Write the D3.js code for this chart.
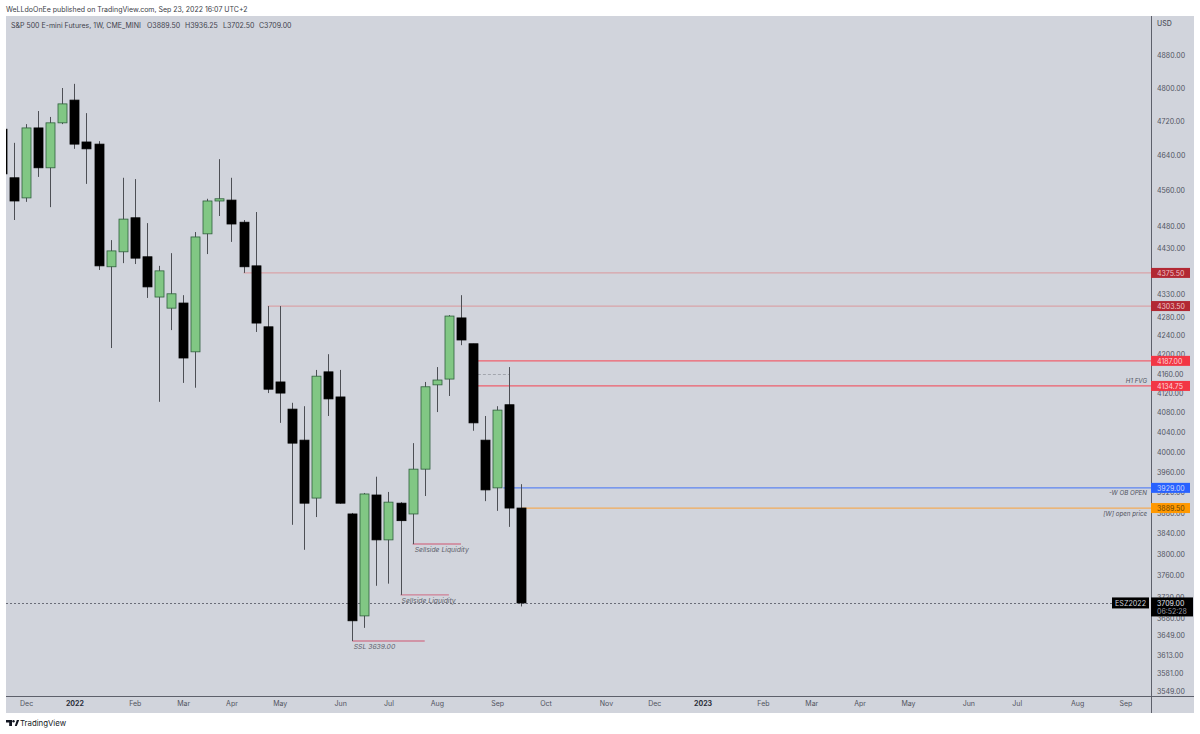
<!DOCTYPE html>
<html>
<head>
<meta charset="utf-8">
<title>ES weekly</title>
<script src="https://cdn.jsdelivr.net/npm/d3@7"></script>
<style>
  html, body { margin: 0; background: #fff; overflow: hidden; }
  svg { display: block; }
  text { font-family: Inter, "Liberation Sans", sans-serif; }
</style>
</head>
<body>
<div id="chart"></div>
<script>
// weekly bars, first one is cut off by the left edge
var opens  = [4702, 4589, 4543, 4705, 4612, 4717, 4771, 4672, 4667, 4389, 4422, 4498, 4411, 4323, 4299, 4310, 4206, 4462, 4536, 4538, 4488, 4391, 4259, 4143, 4087, 4024, 3909, 4164, 4112, 3878, 3685, 3915, 3828, 3899, 3878, 3966, 4137, 4149, 4278, 4223, 4024, 3929, 4096, 3889.5]
var highs  = [4702, 4670, 4714, 4745, 4731, 4800, 4810, 4740, 4674, 4448, 4589, 4586, 4486, 4391, 4419, 4327, 4466, 4541, 4632, 4589, 4493, 4511, 4303.5, 4303.5, 4100, 4093, 4168, 4201, 4168, 3880, 3919, 3951, 3921, 3901, 4018, 4143, 4174, 4284, 4327, 4223, 4073, 4093, 4174, 3936.25]
var lows   = [4598, 4493, 4534, 4591, 4522, 4714, 4656, 4575, 4382, 4214, 4397, 4395, 4321, 4102, 4252, 4141, 4131, 4417, 4502, 4444, 4375.5, 4248, 4120, 4059, 3857, 3809, 3872, 4073, 3898, 3639, 3663, 3741, 3745, 3724, 3820, 3913, 4081, 4114, 4220, 4043, 3903, 3884, 3853, 3702.5]
var closes = [4598, 4536, 4705, 4612, 4717, 4762, 4667, 4656, 4391, 4424, 4495, 4408, 4345, 4380, 4330, 4193, 4455, 4536, 4541, 4484, 4389, 4267, 4128, 4120, 4018, 3899, 4155, 4108, 3899, 3676, 3917, 3828, 3901, 3865, 3966, 4133, 4147, 4282, 4231, 4059, 3925, 4085, 3889.5, 3709]

var priceTicks = [4880, 4800, 4720, 4640, 4560, 4480, 4430, 4330, 4280, 4240, 4200, 4160, 4120, 4080, 4040, 4000, 3960, 3920, 3880, 3840, 3800, 3760, 3720, 3680, 3649, 3613, 3581, 3549]
var timeTicks  = [1, 5, 10, 14, 18, 22, 27, 31, 35, 40, 44, 49, 53, 57, 62, 66, 70, 74, 79, 83, 88, 92]
var timeLabels = ['Dec', '2022', 'Feb', 'Mar', 'Apr', 'May', 'Jun', 'Jul', 'Aug', 'Sep', 'Oct', 'Nov', 'Dec', '2023', 'Feb', 'Mar', 'Apr', 'May', 'Jun', 'Jul', 'Aug', 'Sep']

// drawn levels: price, first bar, colour
var levelPrices = [4375.5, 4303.5, 4187, 4134.75, 3929, 3889.5]
var levelStarts = [19, 21, 38.4, 38.4, 40.5, 42]
var levelColors = ['#d9a3a8', '#d9a3a8', '#f0606c', '#ee5f6c', '#5c85f2', '#f2ab5a']
var tagColors   = ['#b22833', '#b22833', '#f23645', '#f23645', '#2962ff', '#ff9800']
var tagText     = ['#f0c4c8', '#f0c4c8', '#ffd4d8', '#ffd4d8', '#c9d6ff', '#6b4400']

var liquidityPrices = [3820, 3724, 3639]
var liquidityStarts = [33, 32, 28]
var liquidityEnds   = [37, 36, 34]
var liquidityLabels = ['Sellside Liquidity', 'Sellside Liquidity', 'SSL 3639.00']

var width = 1200, height = 734
var plot = { left: 6, right: 1151, top: 16, bottom: 696, outer: 1194, foot: 713 }

var svg = d3.select('#chart').append('svg').attr('width', width).attr('height', height)

var x = d3.scaleLinear().domain([-1, 92]).range([1.9, 1125.4])
var y = d3.scaleLog().domain([4880, 3549]).range([55, 691])

svg.append('rect')
  .attr('x', plot.left).attr('y', plot.top)
  .attr('width', plot.outer - plot.left).attr('height', plot.foot - plot.top)
  .attr('fill', '#d1d4dc')

svg.append('clipPath').attr('id', 'plot-clip').append('rect')
  .attr('x', plot.left).attr('y', plot.top)
  .attr('width', plot.right - plot.left).attr('height', plot.bottom - plot.top)

var main = svg.append('g').attr('clip-path', 'url(#plot-clip)')

/*
* Levels, behind the candles
*/
main.selectAll('.level').data(levelPrices).enter().append('line')
  .attr('x1', function(d, i){ return x(levelStarts[i]) })
  .attr('x2', plot.right)
  .attr('y1', function(d){ return y(d) })
  .attr('y2', function(d){ return y(d) })
  .attr('stroke', function(d, i){ return levelColors[i] })
  .attr('stroke-width', 1.2)

// dashed mid line of the FVG
main.append('line')
  .attr('x1', x(38.4)).attr('x2', x(41))
  .attr('y1', Math.round(y(4160)) + 0.5).attr('y2', Math.round(y(4160)) + 0.5)
  .attr('stroke', '#a3a6ae').attr('stroke-dasharray', '3,2')

main.selectAll('.liq').data(liquidityPrices).enter().append('line')
  .attr('x1', function(d, i){ return x(liquidityStarts[i]) })
  .attr('x2', function(d, i){ return x(liquidityEnds[i]) })
  .attr('y1', function(d){ return y(d) })
  .attr('y2', function(d){ return y(d) })
  .attr('stroke', '#cf7f95')
  .attr('stroke-width', 1.4)

main.append('line')
  .attr('x1', plot.left).attr('x2', 1112)
  .attr('y1', Math.round(y(3709)) + 0.5).attr('y2', Math.round(y(3709)) + 0.5)
  .attr('stroke', '#6a6d78').attr('stroke-dasharray', '2,2')

/*
* Candles
*/
var bars = main.selectAll('.bar').data(opens).enter().append('g').attr('class', 'bar')

bars.append('line')
  .attr('x1', function(d, i){ return Math.round(x(i - 1)) + 0.5 })
  .attr('x2', function(d, i){ return Math.round(x(i - 1)) + 0.5 })
  .attr('y1', function(d, i){ return y(highs[i]) })
  .attr('y2', function(d, i){ return y(lows[i]) })
  .attr('stroke', '#4d4f55').attr('stroke-width', 1)

bars.append('rect')
  .attr('x', function(d, i){ return Math.round(x(i - 1)) - 4 })
  .attr('width', 9)
  .attr('y', function(d, i){ return y(Math.max(d, closes[i])) })
  .attr('height', function(d, i){ return Math.max(1.5, Math.abs(y(d) - y(closes[i]))) })
  .attr('fill', function(d, i){ return closes[i] >= d ? '#81c784' : '#000' })
  .attr('stroke', function(d, i){ return closes[i] >= d ? '#2f5f3c' : '#000' })
  .attr('stroke-width', 0.8)

/*
* Notes on the chart
*/
main.selectAll('.liq-label').data(liquidityPrices).enter().append('text')
  .attr('x', function(d, i){ return x(liquidityStarts[i]) + (i == 2 ? 1.5 : i == 0 ? 2 : 1) })
  .attr('y', function(d, i){ return y(d) + 8 })
  .attr('font-size', 6.8).attr('font-style', 'italic').attr('fill', '#5d606b')
  .text(function(d, i){ return liquidityLabels[i] })

var notes = [['H1 FVG', 4134.75, -3], ['-W OB OPEN', 3929, 7.5], ['[W] open price', 3889.5, 7.5]]
main.selectAll('.note').data(notes).enter().append('text')
  .attr('x', 1147)
  .attr('y', function(d){ return y(d[1]) + d[2] })
  .attr('text-anchor', 'end')
  .attr('font-size', 6.2).attr('font-style', 'italic').attr('fill', '#50535e')
  .text(function(d){ return d[0] })

/*
* Axes
*/
var yAxis = d3.axisRight(y).tickValues(priceTicks).tickSize(0).tickPadding(6)
  .tickFormat(d3.format('.2f'))
var yG = svg.append('g').attr('transform', 'translate(' + plot.right + ',0)').call(yAxis)
yG.select('.domain').remove()
yG.selectAll('text').attr('font-family', 'Inter, sans-serif').attr('font-size', 7).attr('fill', '#50535e')

var xAxis = d3.axisBottom(x).tickValues(timeTicks).tickSize(0).tickPadding(5)
  .tickFormat(function(d, i){ return timeLabels[i] })
var xG = svg.append('g').attr('transform', 'translate(0,' + plot.bottom + ')').call(xAxis)
xG.select('.domain').remove()
xG.selectAll('text').attr('font-family', 'Inter, sans-serif').attr('font-size', 7).attr('fill', '#50535e')
  .attr('font-weight', function(d, i){ return /^20/.test(timeLabels[i]) ? 700 : 400 })
  .attr('fill', function(d, i){ return /^20/.test(timeLabels[i]) ? '#2a2e39' : '#50535e' })

svg.append('line').attr('x1', plot.right + 0.5).attr('x2', plot.right + 0.5)
  .attr('y1', plot.top).attr('y2', plot.foot).attr('stroke', '#5d606b')
svg.append('line').attr('x1', plot.left).attr('x2', plot.outer)
  .attr('y1', plot.bottom + 0.5).attr('y2', plot.bottom + 0.5).attr('stroke', '#5d606b')

svg.append('text').attr('x', 1157).attr('y', 26).attr('font-size', 7).attr('font-weight', 500)
  .attr('fill', '#50535e').text('USD')

/*
* Price tags on the axis
*/
var tags = svg.selectAll('.tag').data(levelPrices).enter().append('g')
tags.append('rect')
  .attr('x', plot.right).attr('width', 39)
  .attr('y', function(d){ return y(d) - 5 }).attr('height', 10)
  .attr('fill', function(d, i){ return tagColors[i] })
tags.append('text')
  .attr('x', plot.right + 6)
  .attr('y', function(d){ return y(d) + 2.7 })
  .attr('font-size', 7)
  .attr('fill', function(d, i){ return tagText[i] })
  .text(function(d){ return d3.format('.2f')(d) })

svg.append('rect').attr('x', 1112).attr('y', y(3709) - 5.5).attr('width', 37).attr('height', 11).attr('fill', '#000')
svg.append('text').attr('x', 1115).attr('y', y(3709) + 2.8).attr('font-size', 7.2).attr('fill', '#d1d4dc').text('ESZ2022')
svg.append('rect').attr('x', plot.right).attr('y', y(3709) - 5.5).attr('width', 42).attr('height', 19).attr('fill', '#000')
svg.append('text').attr('x', 1157).attr('y', y(3709) + 2.8).attr('font-size', 7).attr('fill', '#e0e3eb').text('3709.00')
svg.append('text').attr('x', 1157).attr('y', y(3709) + 11.5).attr('font-size', 7).attr('fill', '#9598a1').text('06:52:28')

/*
* Header and footer
*/
svg.append('text').attr('x', 6).attr('y', 12).attr('font-size', 7).attr('fill', '#3a3d46')
  .text('WeLLdoOnEe published on TradingView.com, Sep 23, 2022 16:07 UTC+2')
svg.append('text').attr('x', 11).attr('y', 28).attr('font-size', 7).attr('fill', '#3f424c')
  .text('S&P 500 E-mini Futures, 1W, CME_MINI')
svg.append('text').attr('x', 147).attr('y', 28).attr('font-size', 7).attr('fill', '#3f424c')
  .text('O3889.50')
svg.append('text').attr('x', 185).attr('y', 28).attr('font-size', 7).attr('fill', '#3f424c')
  .text('H3936.25')
svg.append('text').attr('x', 223).attr('y', 28).attr('font-size', 7).attr('fill', '#3f424c')
  .text('L3702.50')
svg.append('text').attr('x', 259).attr('y', 28).attr('font-size', 7).attr('fill', '#3f424c')
  .text('C3709.00')

// TradingView mark
var logo = svg.append('g').attr('transform', 'translate(6,720)').attr('fill', '#131722')
logo.append('path').attr('d', 'M0 0H6V6H3.2V2.4H0Z')
logo.append('circle').attr('cx', 7.5).attr('cy', 1.2).attr('r', 1.2)
logo.append('path').attr('d', 'M8.8 6L10.8 0H13.2L10.8 6Z')
svg.append('text').attr('x', 20).attr('y', 726).attr('font-size', 7.8).attr('fill', '#131722').text('TradingView')
</script>
</body>
</html>
